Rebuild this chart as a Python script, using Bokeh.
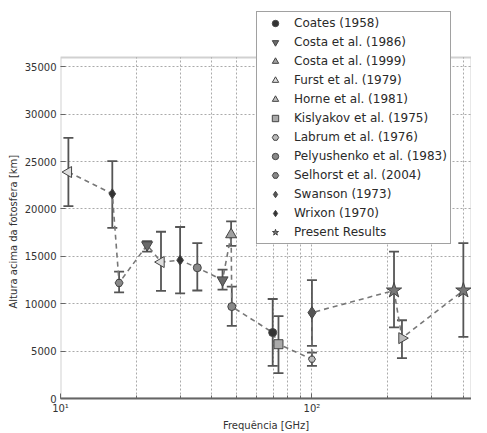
import math
from bokeh.plotting import figure
from bokeh.models import (ColumnDataSource, Whisker, TeeHead, FixedTicker, Legend,
                          LegendItem, NumeralTickFormatter, BoxAnnotation, Title)
from bokeh.embed import file_html
from bokeh.resources import INLINE

# ---------------- data (frequency GHz, height km, lower, upper) ----------------
coates_f = [69.8];            coates_h = [6960];            coates_lo = [3450];            coates_hi = [10500]
costa86_f = [22.1, 44.1];     costa86_h = [16200, 12500];   costa86_lo = [15500, 11500];   costa86_hi = [16600, 13600]
costa99_f = [47.7];           costa99_h = [17300];          costa99_lo = [16100];          costa99_hi = [18700]
furst_f = [10.75, 25.1];      furst_h = [23900, 14400];     furst_lo = [20300, 11350];     furst_hi = [27500, 17600]
horne_f = [228];              horne_h = [6370];             horne_lo = [4260];             horne_hi = [8260]
kisly_f = [73.6];             kisly_h = [5730];             kisly_lo = [2680];             kisly_hi = [8700]
labrum_f = [100];             labrum_h = [4150];            labrum_lo = [3450];            labrum_hi = [4850]
pely_f = [35.0, 48.0];        pely_h = [13800, 9700];       pely_lo = [11400, 7660];       pely_hi = [16400, 11800]
selh_f = [17.1];              selh_h = [12200];             selh_lo = [11200];             selh_hi = [13400]
swanson_f = [100];            swanson_h = [9060];           swanson_lo = [5550];           swanson_hi = [12500]
wrixon_f = [16.07, 29.9];     wrixon_h = [21600, 14600];    wrixon_lo = [18000, 11100];    wrixon_hi = [25050, 18100]
present_f = [212, 400];       present_h = [11400, 11400];   present_lo = [7500, 6500];     present_hi = [15500, 16400]

labels = ["Coates (1958)", "Costa et al. (1986)", "Costa et al. (1999)", "Furst et al. (1979)",
          "Horne et al. (1981)", "Kislyakov et al. (1975)", "Labrum et al. (1976)",
          "Pelyushenko et al. (1983)", "Selhorst et al. (2004)", "Swanson (1973)",
          "Wrixon (1970)", "Present Results"]

y_ticks = [0, 5000, 10000, 15000, 20000, 25000, 30000, 35000]
y_axis_max = 36000
x_major = [10, 100]
x_minor = [20, 30, 40, 50, 60, 70, 80, 90, 200, 300, 400]
x_labels = {10: "10¹", 100: "10²"}

series = [
    (coates_f, coates_h, coates_lo, coates_hi, "circle", 0, 8, "#333333"),
    (costa86_f, costa86_h, costa86_lo, costa86_hi, "inverted_triangle", 0, 11, "#6a6a6a"),
    (costa99_f, costa99_h, costa99_lo, costa99_hi, "triangle", 0, 11, "#a0a0a0"),
    (furst_f, furst_h, furst_lo, furst_hi, "triangle", math.pi / 2, 11, "#dddddd"),
    (horne_f, horne_h, horne_lo, horne_hi, "triangle", -math.pi / 2, 11, "#bbbbbb"),
    (kisly_f, kisly_h, kisly_lo, kisly_hi, "square", 0, 9, "#aaaaaa"),
    (labrum_f, labrum_h, labrum_lo, labrum_hi, "hex", 0, 7, "#bbbbbb"),
    (pely_f, pely_h, pely_lo, pely_hi, "circle", 0, 8, "#888888"),
    (selh_f, selh_h, selh_lo, selh_hi, "hex", 0, 8, "#888888"),
    (swanson_f, swanson_h, swanson_lo, swanson_hi, "diamond", 0, 12, "#555555"),
    (wrixon_f, wrixon_h, wrixon_lo, wrixon_hi, "diamond", 0, 10, "#333333"),
    (present_f, present_h, present_lo, present_hi, "star", 0, 16, "#777777"),
]

H, BT, BB = 433, 11, 34
frame_h = H - BT - BB
y_end = y_axis_max * frame_h / 342.0

p = figure(width=471, height=H, x_axis_type="log", x_range=(10, 431), y_range=(0, y_end),
           output_backend="svg", toolbar_location=None,
           min_border_left=60, min_border_right=0, min_border_top=BT, min_border_bottom=BB)
p.background_fill_color = "white"
p.border_fill_color = "white"
p.outline_line_color = None

FONT = "DejaVu Sans"
AX = "#666666"

p.xaxis.ticker = FixedTicker(ticks=x_major, minor_ticks=x_minor)
p.xaxis.major_label_overrides = x_labels
p.yaxis.ticker = FixedTicker(ticks=y_ticks)
p.yaxis.formatter = NumeralTickFormatter(format="0")
for ax in (p.xaxis[0], p.yaxis[0]):
    ax.axis_line_color = AX
    ax.axis_line_width = 2
    ax.major_tick_line_color = AX
    ax.minor_tick_line_color = AX
    ax.major_tick_in = 5
    ax.major_tick_out = 0
    ax.minor_tick_in = 3
    ax.minor_tick_out = 0
    ax.major_label_text_font = FONT
    ax.major_label_text_font_size = "10px"
    ax.major_label_text_color = "#333333"
    ax.axis_label_text_font = FONT
    ax.axis_label_text_font_size = "10px"
    ax.axis_label_text_font_style = "normal"
    ax.axis_label_text_color = "#333333"
p.yaxis.axis_line_color = None
p.yaxis.minor_tick_line_color = None
p.xaxis.axis_label = "Frequência [GHz]"
p.xaxis.major_label_standoff = 4
p.xaxis.axis_label_standoff = 3
p.yaxis.major_label_standoff = 4

ytitle = Title(text="Altura acima da fotosfera [km]", align="left", offset=90,
               text_font=FONT, text_font_size="10px", text_font_style="normal",
               text_color="#333333", standoff=6)
p.add_layout(ytitle, "left")

p.xgrid.grid_line_color = "#aaaaaa"
p.xgrid.grid_line_dash = "2 2"
p.xgrid.minor_grid_line_color = "#aaaaaa"
p.xgrid.minor_grid_line_dash = "2 2"
p.ygrid.grid_line_color = "#aaaaaa"
p.ygrid.grid_line_dash = "2 2"

p.add_layout(BoxAnnotation(bottom=y_axis_max, fill_color="white", fill_alpha=1.0,
                           line_color=None, level="guide"))
p.add_layout(BoxAnnotation(bottom=0, top=y_axis_max, fill_alpha=0, line_color=AX,
                           line_width=2, level="guide"))

allpts = []
for s in series:
    allpts += list(zip(s[0], s[1]))
allpts.sort()
p.line([a for a, b in allpts], [b for a, b in allpts], line_color="#777777",
       line_width=1.6, line_dash="5 4")

items = []
for (f, h, lo, hi, marker, ang, size, col), lab in zip(series, labels):
    src = ColumnDataSource(dict(x=f, y=h, lo=lo, hi=hi))
    w = Whisker(source=src, base="x", lower="lo", upper="hi", dimension="height",
                line_color="#555555", line_width=1.8,
                upper_head=TeeHead(size=10, line_color="#555555", line_width=1.8),
                lower_head=TeeHead(size=10, line_color="#555555", line_width=1.8))
    p.add_layout(w)
    r = p.scatter("x", "y", source=src, marker=marker, angle=ang, size=size,
                  fill_color=col, line_color="#444444", line_width=1)
    items.append(LegendItem(label=lab, renderers=[r]))

legend = Legend(items=items, location=(196, 154), orientation="vertical",
                label_text_font=FONT, label_text_font_size="12px", label_text_color="#2a2a2a",
                glyph_width=30, glyph_height=16, label_height=16, spacing=3, padding=3,
                margin=0, label_standoff=4, border_line_color="#444444", border_line_width=1.5,
                background_fill_color="white", background_fill_alpha=1.0)
p.add_layout(legend, "center")

open("out.html", "w").write(file_html(p, INLINE))
